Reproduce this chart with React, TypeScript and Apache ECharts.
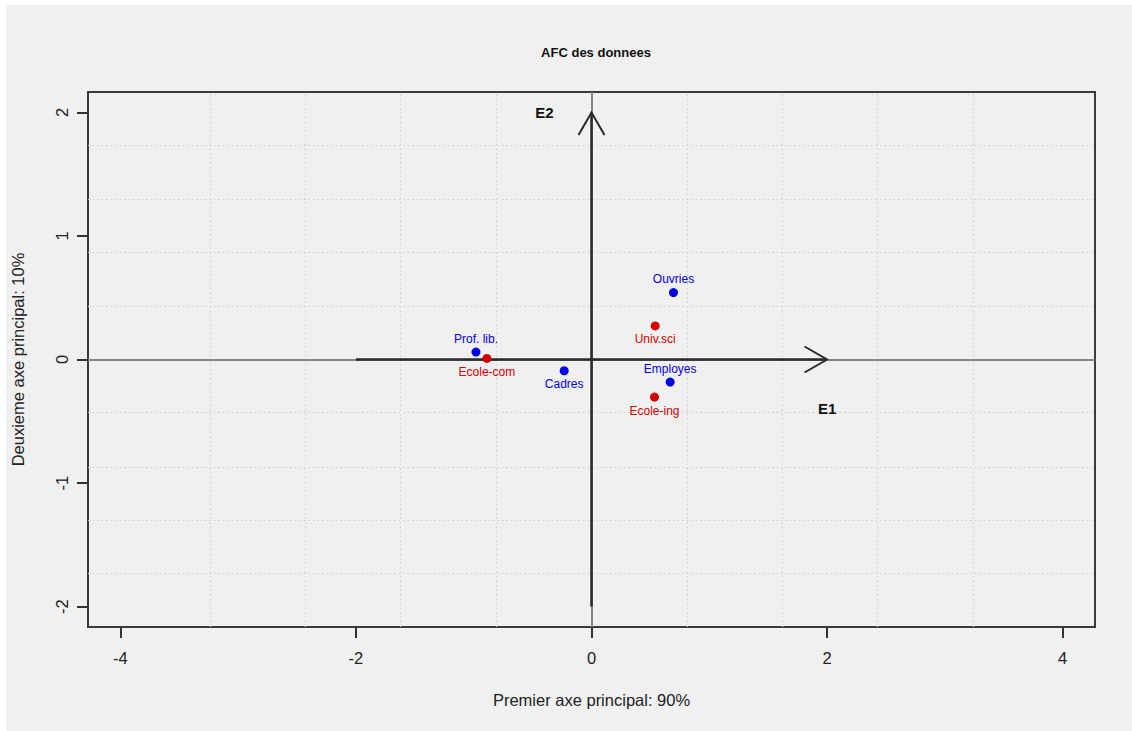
import React, { useEffect, useRef } from "react";
import * as echarts from "echarts";

// Rows (blue) and columns (red) coordinates of the correspondence analysis
const rowNames = ["Ouvries", "Employes", "Cadres", "Prof. lib."];
const rowX = [0.696, 0.668, -0.232, -0.981];
const rowY = [0.542, -0.183, -0.091, 0.06];
const rowLabelPos = ["top", "top", "bottom", "top"];

const colNames = ["Univ.sci", "Ecole-ing", "Ecole-com"];
const colX = [0.541, 0.535, -0.888];
const colY = [0.272, -0.304, 0.009];
const colLabelPos = ["bottom", "bottom", "bottom"];

// Axis arrows [x0, y0, x1, y1] and their labels
const arrows = [
  [-2, 0, 2, 0],
  [0, -2, 0, 2],
];
const axisLabels = [
  [2, -0.4, "E1"],
  [-0.4, 2, "E2"],
];

// Ticks and dotted grid positions
const xTicks = [-4, -2, 0, 2, 4];
const yTicks = [-2, -1, 0, 1, 2];
const gridX = [-3.24, -2.43, -1.62, -0.81, 0.81, 1.62, 2.43, 3.24];
const gridY = [-1.732, -1.299, -0.866, -0.433, 0.433, 0.866, 1.299, 1.732];

const xRange = [-4.275, 4.275];
const yRange = [-2.165, 2.165];

const FONT = '"Liberation Sans", Arial, Helvetica, sans-serif';
const BLUE = "#0000e0";
const RED = "#d00000";
const DARK = "#333333";

export default function App() {
  const ref = useRef<HTMLDivElement>(null);

  useEffect(() => {
    if (!ref.current) return;
    const chart = echarts.init(ref.current, null, { renderer: "svg" });

    const rowData = rowNames.map((n, i) => ({
      name: n,
      value: [rowX[i], rowY[i]],
      label: { position: rowLabelPos[i] },
    }));
    const colData = colNames.map((n, i) => ({
      name: n,
      value: [colX[i], colY[i]],
      label: { position: colLabelPos[i] },
    }));

    const option: any = {
      animation: false,
      backgroundColor: "transparent",
      textStyle: { fontFamily: FONT },
      title: {
        text: "AFC des donnees",
        left: 591,
        top: 41,
        textAlign: "center",
        textStyle: { fontSize: 13, fontWeight: "bold", color: "#111", fontFamily: FONT },
      },
      graphic: [
        {
          type: "rect",
          z: -10,
          silent: true,
          shape: { x: 6, y: 5, width: 1126, height: 726 },
          style: { fill: "#f0f0f0" },
        },
      ],
      grid: {
        left: 88,
        right: 37,
        top: 92,
        bottom: 104,
        show: true,
        borderColor: "#3a3a3a",
        borderWidth: 2,
        backgroundColor: "transparent",
      },
      xAxis: {
        type: "value",
        min: xRange[0],
        max: xRange[1],
        name: "Premier axe principal: 90%",
        nameLocation: "middle",
        nameGap: 64,
        nameTextStyle: { fontSize: 16.5, color: "#222", fontFamily: FONT },
        axisLine: { show: false, onZero: false },
        splitLine: { show: false },
        axisTick: {
          show: true,
          customValues: xTicks,
          length: 11,
          lineStyle: { color: DARK, width: 2 },
        },
        axisLabel: {
          customValues: xTicks,
          margin: 22,
          fontSize: 16.5,
          color: "#222",
          fontFamily: FONT,
        },
      },
      yAxis: {
        type: "value",
        min: yRange[0],
        max: yRange[1],
        name: "Deuxieme axe principal: 10%",
        nameLocation: "middle",
        nameGap: 62,
        nameTextStyle: { fontSize: 16.5, color: "#222", fontFamily: FONT },
        axisLine: { show: false, onZero: false },
        splitLine: { show: false },
        axisTick: {
          show: true,
          customValues: yTicks,
          length: 11,
          lineStyle: { color: DARK, width: 2 },
        },
        axisLabel: {
          customValues: yTicks,
          rotate: 90,
          margin: 18,
          fontSize: 16.5,
          color: "#222",
          fontFamily: FONT,
        },
      },
      series: [
        {
          type: "scatter",
          name: "grid",
          data: [],
          z: 1,
          silent: true,
          markLine: {
            z: 1,
            silent: true,
            symbol: ["none", "none"],
            label: { show: false },
            lineStyle: { color: "#cdcdcd", width: 1, type: [1.5, 3], opacity: 1 },
            emphasis: { disabled: true },
            data: [
              ...gridX.map((v) => ({ xAxis: v })),
              ...gridY.map((v) => ({ yAxis: v })),
            ],
          },
        },
        {
          type: "scatter",
          name: "zero",
          data: [],
          z: 2,
          silent: true,
          markLine: {
            z: 2,
            silent: true,
            symbol: ["none", "none"],
            label: { show: false },
            lineStyle: { color: "#858585", width: 2, type: "solid", opacity: 1 },
            emphasis: { disabled: true },
            data: [{ yAxis: 0 }, { xAxis: 0 }],
          },
        },
        {
          type: "custom",
          name: "arrows",
          z: 3,
          silent: true,
          encode: { x: [0, 2], y: [1, 3] },
          data: arrows,
          renderItem: (params: any, api: any) => {
            const p0 = api.coord([api.value(0), api.value(1)]);
            const p1 = api.coord([api.value(2), api.value(3)]);
            const a = Math.atan2(p1[1] - p0[1], p1[0] - p0[0]);
            const L = 26;
            const h = Math.PI / 6;
            const arm1 = [p1[0] - L * Math.cos(a - h), p1[1] - L * Math.sin(a - h)];
            const arm2 = [p1[0] - L * Math.cos(a + h), p1[1] - L * Math.sin(a + h)];
            return {
              type: "group",
              children: [
                {
                  type: "line",
                  shape: { x1: p0[0], y1: p0[1], x2: p1[0], y2: p1[1] },
                  style: { stroke: "#2a2a2a", lineWidth: 2.5, opacity: 1 },
                },
                {
                  type: "polyline",
                  shape: { points: [arm1, p1, arm2] },
                  style: { stroke: "#2a2a2a", lineWidth: 2, fill: null, opacity: 1 },
                },
              ],
            };
          },
        },
        {
          type: "scatter",
          name: "E",
          z: 4,
          silent: true,
          symbolSize: 0,
          itemStyle: { opacity: 1 },
          data: axisLabels.map((d) => ({ name: d[2], value: [d[0], d[1]] })),
          label: {
            show: true,
            position: "inside",
            formatter: "{b}",
            fontSize: 15,
            fontWeight: "bold",
            color: "#111",
            fontFamily: FONT,
          },
        },
        {
          type: "scatter",
          name: "rows",
          z: 5,
          symbolSize: 9,
          itemStyle: { color: BLUE, opacity: 1 },
          data: rowData,
          label: {
            show: true,
            formatter: "{b}",
            distance: 3,
            fontSize: 12,
            color: BLUE,
            fontFamily: FONT,
          },
        },
        {
          type: "scatter",
          name: "cols",
          z: 5,
          symbolSize: 9,
          itemStyle: { color: RED, opacity: 1 },
          data: colData,
          label: {
            show: true,
            formatter: "{b}",
            distance: 3,
            fontSize: 12,
            color: RED,
            fontFamily: FONT,
          },
        },
      ],
    };

    chart.setOption(option);
    return () => chart.dispose();
  }, []);

  return (
    <div
      ref={ref}
      style={{ position: "fixed", left: 0, top: 0, width: 1132, height: 731, background: "#ffffff" }}
    />
  );
}
